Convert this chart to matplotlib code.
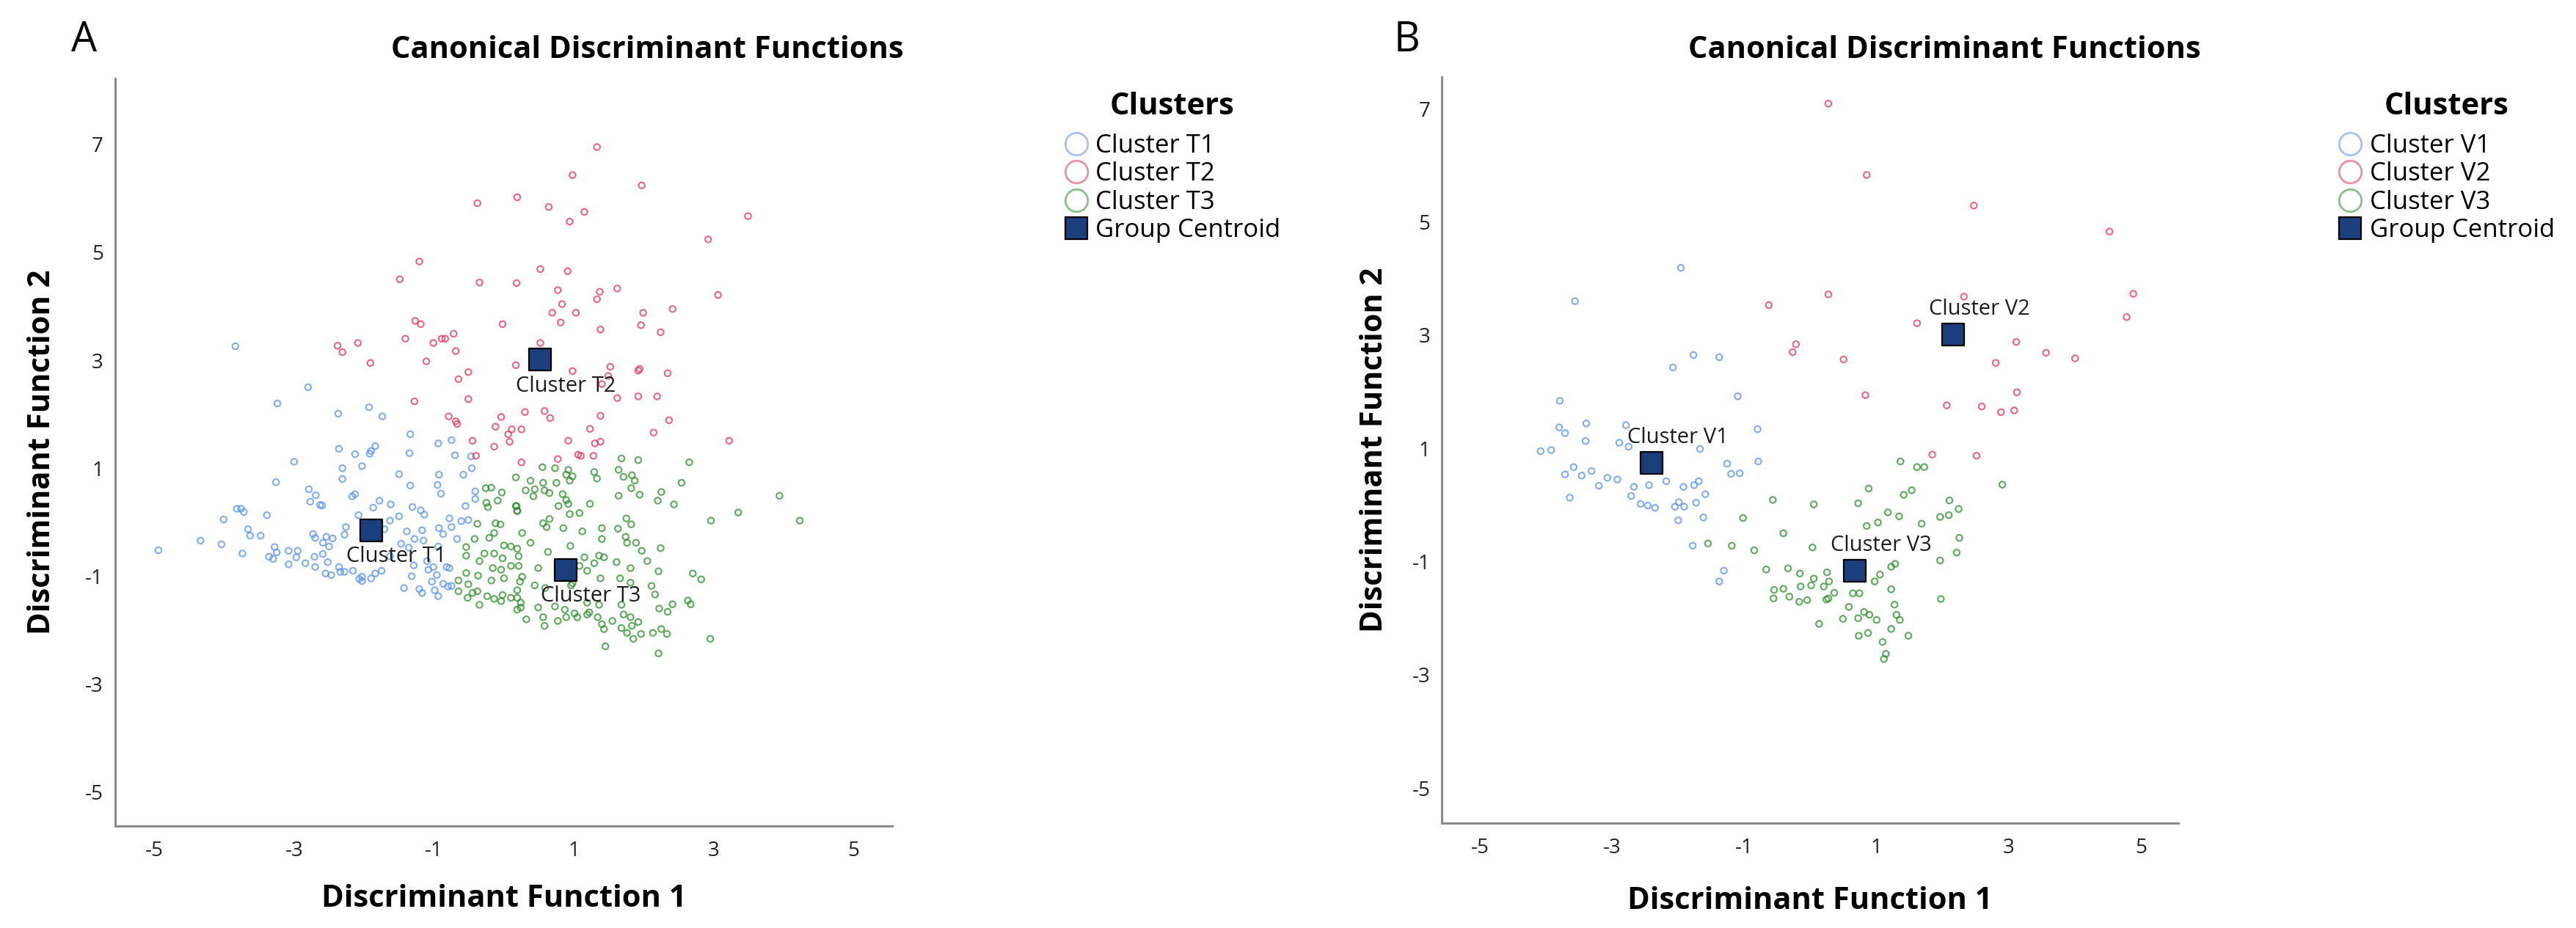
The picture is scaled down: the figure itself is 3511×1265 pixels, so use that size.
import matplotlib
matplotlib.use("Agg")
import matplotlib.pyplot as plt
from matplotlib.lines import Line2D

plt.rcParams['font.family'] = ['Open Sans', 'DejaVu Sans']
plt.rcParams['axes.unicode_minus'] = False

# ---------------- panel A (T clusters) ----------------
t1_x = [-3.84, -2.80, -3.24, -1.93, -4.94, -2.37, -1.74, -1.34, -0.94, -0.75, -2.36, -2.13, -1.92, -1.90,
        -1.84, -1.35, -0.70, -0.47, -3.00, -2.31, -2.03, -2.31, -1.50, -0.93, -0.58, -0.46, -3.26, -2.79,
        -2.69, -2.77, -2.63, -2.60, -2.17, -2.13, -1.34, -0.95, -0.90, -0.41, -0.41, -0.55, -3.82, -3.76,
        -3.72, -3.39, -4.01, -4.34, -4.04, -3.66, -3.63, -3.48, -3.74, -3.28, -3.25, -3.36, -3.30, -3.08,
        -2.95, -2.97, -3.08, -2.84, -2.73, -2.70, -2.54, -2.45, -2.59, -2.50, -2.71, -2.59, -2.52, -2.70,
        -2.55, -2.47, -2.36, -2.34, -2.28, -2.16, -2.07, -2.03, -2.03, -1.90, -1.84, -1.75, -2.26, -2.28,
        -2.08, -1.87, -1.78, -1.62, -1.63, -1.71, -1.50, -1.31, -1.19, -1.14, -1.39, -1.17, -1.28, -1.15,
        -1.47, -1.36, -1.63, -1.29, -1.10, -1.01, -1.08, -1.32, -0.96, -1.43, -1.21, -1.17, -1.03, -0.99,
        -0.94, -0.87, -0.80, -0.75, -0.93, -0.87, -0.75, -0.78, -0.61, -0.51, -0.67, -0.82, -0.78, -0.94]
t1_y = [3.26, 2.50, 2.20, 2.13, -0.52, 2.01, 1.96, 1.63, 1.46, 1.52, 1.36, 1.26, 1.27, 1.32,
        1.41, 1.28, 1.24, 1.22, 1.12, 1.00, 1.04, 0.80, 0.89, 0.88, 0.88, 1.00, 0.74, 0.61,
        0.50, 0.38, 0.32, 0.31, 0.48, 0.52, 0.68, 0.69, 0.53, 0.57, 0.43, 0.30, 0.25, 0.25,
        0.19, 0.13, 0.05, -0.34, -0.41, -0.13, -0.25, -0.25, -0.58, -0.46, -0.56, -0.64, -0.68, -0.53,
        -0.53, -0.65, -0.78, -0.76, -0.22, -0.29, -0.27, -0.30, -0.38, -0.45, -0.64, -0.59, -0.74, -0.83,
        -0.95, -0.98, -0.83, -0.92, -0.92, -0.90, -1.05, -1.01, -1.09, -1.04, -0.95, -0.90, -0.09, -0.23,
        0.13, 0.27, 0.40, 0.33, 0.03, -0.13, 0.11, 0.28, 0.22, 0.14, -0.17, -0.15, -0.31, -0.34,
        -0.40, -0.47, -0.63, -0.80, -0.72, -0.83, -0.88, -1.00, -0.98, -1.22, -1.24, -1.31, -1.10, -1.26,
        -1.37, -1.14, -1.19, -1.18, -0.11, -0.22, -0.09, 0.07, 0.02, 0.04, -0.31, -0.83, -0.85, -0.45]

t2_x = [1.33, 0.98, 1.97, -0.38, 0.19, 0.64, 1.15, 0.94, 3.49, 2.92, -1.21, -1.49, -0.35, 0.18, 0.52,
        0.91, 0.77, 1.37, 1.33, 1.62, 3.06, 0.83, 0.69, 1.03, 1.99, 2.41, -0.02, 0.81, 1.38, 1.96,
        2.24, -1.27, -1.19, -1.41, -1.01, -0.89, -0.84, -0.72, -0.69, -1.11, -2.38, -2.31, -2.09, -1.91,
        0.52, 0.17, 0.98, 1.52, 1.49, 1.92, 1.94, 2.34, -0.51, -0.65, -1.28, -0.51, 1.40, 1.62, 1.92,
        2.19, 0.30, 0.58, 0.66, -0.04, 0.11, 0.25, 0.06, -0.12, -0.79, -0.67, -0.69, 1.38, 1.23, 2.14,
        2.36, 3.22, -0.45, -0.14, 0.08, 0.92, 1.30, 1.38, -0.40, 0.25, 0.77, 1.06, 1.10, 1.28]
t2_y = [6.95, 6.43, 6.24, 5.91, 6.02, 5.84, 5.75, 5.57, 5.67, 5.24, 4.83, 4.50, 4.44, 4.43, 4.69,
        4.65, 4.30, 4.27, 4.13, 4.33, 4.21, 4.04, 3.88, 3.88, 3.88, 3.95, 3.67, 3.70, 3.57, 3.65,
        3.52, 3.73, 3.67, 3.40, 3.32, 3.40, 3.40, 3.49, 3.17, 2.98, 3.27, 3.15, 3.32, 2.95,
        3.32, 2.91, 2.80, 2.88, 2.71, 2.81, 2.84, 2.76, 2.78, 2.65, 2.24, 2.28, 2.56, 2.30, 2.33,
        2.33, 2.04, 2.06, 1.93, 1.95, 1.72, 1.72, 1.63, 1.77, 1.96, 1.82, 1.87, 1.97, 1.73, 1.66,
        1.89, 1.51, 1.51, 1.40, 1.49, 1.51, 1.46, 1.49, 1.23, 1.11, 1.17, 1.25, 1.23, 1.23]

t3_x = [0.17, -0.26, -0.18, -0.03, -0.09, -0.25, -0.23, 0.17, 0.19, -0.38, -0.12, -0.05, -0.14, -0.21,
        -0.42, -0.54, -0.54, -0.35, -0.28, -0.14, 0.00, 0.10, -0.02, -0.16, -0.04, 0.10, 0.21, -0.54,
        -0.37, -0.65, -0.51, -0.38, -0.65, -0.52, -0.24, -0.14, -0.35, -0.02, 0.10, 0.19, -0.04, -0.45,
        -0.18, 0.00,
        1.68, 1.92, 2.65, 0.55, 0.73, 0.92, 0.89, 0.98, 0.94, 1.29, 1.33, 1.64, 1.71, 1.83, 1.87,
        0.38, 0.56, 0.75, 0.31, 0.44, 0.58, 0.65, 0.42, 0.84, 0.89, 0.92, 0.78, 0.18, 0.19, 0.94,
        1.08, 1.23, 1.64, 1.82, 1.94, 2.25, 2.20, 2.43, 2.54, 3.94, 3.35, 2.96, 4.23, 0.56, 0.65,
        0.61, 0.85, 1.12, 1.40, 1.63, 1.75, 1.82, 1.40, 1.74, 1.76, 1.89, 1.97, 2.24, 2.05, 2.21,
        0.26, 0.38, 0.19, 0.95, 0.63, 1.15, 1.36, 1.43, 1.29, 1.61, 1.81, 1.19, 1.08, 0.49, 0.21,
        1.38, 1.66, 1.81, 2.11, 2.16, 2.70, 2.82, 0.26, 0.23, 0.44, 0.98, 0.59, 0.19, 0.24, 0.24,
        0.49, 0.73, 0.87, 1.01, 1.19, 1.22, 1.36, 1.34, 1.40, 1.43, 1.55, 1.68, 1.71, 1.81, 1.83,
        1.92, 1.68, 1.76, 1.85, 1.96, 2.13, 2.25, 2.33, 2.22, 2.34, 2.41, 2.63, 2.67, 2.95, 1.45,
        2.21, 0.32, 0.56, 0.58, 0.77, 0.89, 1.05, 1.19, 0.96, 0.19]
t3_y = [0.83, 0.63, 0.64, 0.55, 0.40, 0.36, 0.28, 0.30, 0.21, -0.03, -0.02, -0.04, -0.20, -0.29,
        -0.31, -0.46, -0.62, -0.72, -0.58, -0.58, -0.43, -0.45, -0.67, -0.85, -0.88, -0.81, -0.63, -0.94,
        -0.99, -1.08, -1.15, -1.28, -1.28, -1.40, -1.37, -1.42, -1.53, -1.35, -1.40, -1.62, -1.46, -1.31,
        -1.08, -1.04,
        1.18, 1.15, 1.11, 1.02, 1.00, 0.97, 0.88, 0.85, 0.77, 0.93, 0.81, 0.97, 0.84, 0.87, 0.77,
        0.77, 0.73, 0.73, 0.59, 0.61, 0.59, 0.54, 0.48, 0.52, 0.41, 0.34, 0.30, 0.30, 0.21, 0.15,
        0.17, 0.34, 0.49, 0.63, 0.51, 0.56, 0.40, 0.33, 0.73, 0.49, 0.18, 0.03, 0.03, -0.02, 0.06,
        -0.09, -0.11, -0.17, -0.11, -0.12, 0.07, -0.04, -0.31, -0.27, -0.38, -0.38, -0.53, -0.48, -0.72, -0.91,
        -0.20, -0.38, -0.49, -0.44, -0.55, -0.65, -0.62, -0.65, -0.76, -0.74, -0.85, -0.90, -0.81, -0.85, -0.81,
        -1.04, -1.04, -1.12, -1.18, -1.34, -0.95, -1.06, -1.01, -1.10, -1.17, -1.13, -1.22, -1.40, -1.49, -1.58,
        -1.58, -1.56, -1.62, -1.69, -1.49, -1.67, -1.53, -1.76, -1.89, -1.98, -1.83, -1.53, -1.71, -1.76, -1.92,
        -1.85, -1.96, -2.05, -2.16, -2.07, -2.05, -1.98, -2.07, -1.60, -1.66, -1.52, -1.45, -1.52, -2.16, -2.30,
        -2.43, -1.80, -1.76, -1.92, -1.83, -1.76, -1.76, -1.71, -1.17, -1.26]

centroid_a_x = [-1.90, 0.52, 0.88]
centroid_a_y = [-0.15, 3.01, -0.88]
names_a = ['Cluster T1', 'Cluster T2', 'Cluster T3']

# ---------------- panel B (V clusters) ----------------
v1_x = [-1.96, -3.56, -1.77, -1.38, -2.08, -1.10, -3.79, -3.80, -3.71, -3.39, -3.40, -4.08, -3.92,
        -2.89, -2.79, -2.75, -0.80, -1.67, -0.79, -1.26, -1.20, -1.07, -3.58, -3.71, -3.31, -3.46,
        -3.20, -3.07, -2.92, -3.64, -2.67, -2.44, -2.18, -2.71, -2.57, -2.46, -2.35, -2.05, -1.99,
        -1.91, -1.92, -1.76, -1.69, -1.59, -1.73, -2.00, -1.62, -1.78, -1.31, -1.38]
v1_y = [4.19, 3.60, 2.65, 2.61, 2.43, 1.92, 1.84, 1.37, 1.27, 1.44, 1.13, 0.95, 0.97,
        1.10, 1.41, 1.03, 1.34, 0.99, 0.77, 0.73, 0.55, 0.56, 0.67, 0.54, 0.60, 0.52,
        0.34, 0.48, 0.45, 0.13, 0.32, 0.35, 0.42, 0.16, 0.02, -0.01, -0.05, -0.03, 0.05,
        -0.03, 0.32, 0.35, 0.42, 0.19, 0.04, -0.27, -0.22, -0.72, -1.16, -1.35]

v2_x = [0.27, 0.85, 2.47, 4.52, 4.88, 4.78, 0.27, -0.63, 2.32, 1.61, 3.11, 3.56, 4.00, 2.80,
        -0.22, -0.27, 0.50, 0.83, 3.12, 2.06, 2.59, 2.88, 3.08, 1.84, 2.51]
v2_y = [7.09, 5.83, 5.29, 4.83, 3.73, 3.32, 3.72, 3.53, 3.68, 3.21, 2.88, 2.69, 2.59, 2.51,
        2.84, 2.70, 2.57, 1.94, 1.99, 1.76, 1.74, 1.64, 1.67, 0.89, 0.87]

v3_x = [1.36, 1.61, 1.72, 2.90, 0.88, 1.41, 1.53, -0.57, 0.05, 0.72, 2.10, 2.24, 2.09, 1.96, 1.17,
        1.34, 1.02, 0.85, 1.68, -1.02, -0.41, -1.55, -1.19, -0.85, 0.03, 2.25, 2.21, 1.96, 1.28, 1.22,
        1.05, 0.97, 1.22, -0.67, -0.34, -0.16, 0.05, 0.25, 0.28, -0.55, -0.56, -0.41, -0.32, -0.15,
        -0.17, -0.05, 0.01, 0.20, 0.24, 0.36, 0.64, 0.74, 1.97, 0.13, 0.49, 0.58, 0.72, 0.81, 0.89,
        1.00, 0.73, 0.87, 1.22, 1.27, 1.30, 1.35, 1.48, 1.09, 1.14, 1.11, 0.27]
v3_y = [0.77, 0.67, 0.67, 0.36, 0.29, 0.18, 0.26, 0.09, 0.01, 0.03, 0.08, -0.07, -0.18, -0.21, -0.13,
        -0.20, -0.31, -0.37, -0.33, -0.23, -0.50, -0.68, -0.72, -0.80, -0.75, -0.58, -0.84, -0.98, -1.04, -1.09,
        -1.23, -1.35, -1.49, -1.14, -1.12, -1.21, -1.30, -1.19, -1.35, -1.50, -1.65, -1.48, -1.62, -1.44,
        -1.71, -1.68, -1.42, -1.44, -1.67, -1.55, -1.56, -1.56, -1.66, -2.10, -2.01, -1.80, -2.00, -1.89, -1.94,
        -2.03, -2.31, -2.26, -2.19, -1.76, -1.94, -2.03, -2.31, -2.42, -2.63, -2.72, -1.65]

centroid_b_x = [-2.40, 2.16, 0.67]
centroid_b_y = [0.74, 3.01, -1.16]
names_b = ['Cluster V1', 'Cluster V2', 'Cluster V3']

x_ticks = [-5, -3, -1, 1, 3, 5]
y_ticks = [-5, -3, -1, 1, 3, 5, 7]

BLUE = '#5a92ea'
RED = '#de355b'
GREEN = '#2b8c2b'
NAVY = '#1a3f7c'
colors = [BLUE, RED, GREEN]

fig = plt.figure(figsize=(35.11, 12.65), dpi=100)
ax_a = fig.add_axes([0.0447, 0.1098, 0.3016, 0.8056])
ax_b = fig.add_axes([0.5598, 0.1130, 0.2858, 0.8040])


def draw_panel(ax, groups, cx, cy, names, label_dy, xlim, ylim, title_xy, xlab_y, ylab_x, leg_anchor):
    for (gx, gy), c in zip(groups, colors):
        ax.scatter(gx, gy, s=36, facecolors='none', edgecolors=c, linewidths=1.6, alpha=0.72, zorder=2)
    ax.scatter(cx, cy, s=22 ** 2, marker='s', c=NAVY, edgecolors='black', linewidths=1.6, zorder=4)
    for x, y, n in zip(cx, cy, names):
        ax.annotate(n, (x, y), xytext=(-24, label_dy), textcoords='offset points',
                    ha='left', va='center', fontsize=21, color='#1e1e1e', zorder=5)

    ax.set_xlim(*xlim)
    ax.set_ylim(*ylim)
    ax.set_xticks(x_ticks)
    ax.set_xticklabels([str(t) for t in x_ticks])
    ax.set_yticks(y_ticks)
    ax.set_yticklabels([str(t) for t in y_ticks])
    ax.tick_params(axis='x', length=0, pad=14.5, labelsize=20, labelcolor='#222222')
    ax.tick_params(axis='y', length=0, pad=11.5, labelsize=20, labelcolor='#222222')
    for s in ['top', 'right']:
        ax.spines[s].set_visible(False)
    for s in ['left', 'bottom']:
        ax.spines[s].set_color('#8a8a8a')
        ax.spines[s].set_linewidth(2.2)

    ax.set_title('Canonical Discriminant Functions', x=title_xy[0], y=title_xy[1],
                 va='baseline', fontsize=30, fontweight='bold')
    ax.set_xlabel('Discriminant Function 1', fontsize=30, fontweight='bold', va='baseline')
    ax.xaxis.set_label_coords(0.5, xlab_y)
    ax.set_ylabel('Discriminant Function 2', fontsize=30, fontweight='bold', va='center')
    ax.yaxis.set_label_coords(ylab_x, 0.5)

    handles = [Line2D([], [], ls='', marker='o', ms=22, mfc='none', mec=c, mew=2.0, alpha=0.55)
               for c in colors]
    handles.append(Line2D([], [], ls='', marker='s', ms=21, mfc=NAVY, mec='black', mew=1.6))
    leg = ax.legend(handles, names + ['Group Centroid'], title='Clusters', loc='upper left',
                    bbox_to_anchor=leg_anchor, bbox_transform=fig.transFigure, frameon=False,
                    borderpad=0, borderaxespad=0, handlelength=0.95, handletextpad=0.3,
                    labelspacing=0.13, prop={'size': 25},
                    title_fontproperties={'size': 30, 'weight': 'bold'})
    leg._legend_box.sep = 11.5


draw_panel(ax_a, [(t1_x, t1_y), (t2_x, t2_y), (t3_x, t3_y)], centroid_a_x, centroid_a_y, names_a,
           -26, (-5.56, 5.55), (-5.63, 8.22), (0.685, 1.0195), -0.108, -0.094, (0.4130, 0.9012))
draw_panel(ax_b, [(v1_x, v1_y), (v2_x, v2_y), (v3_x, v3_y)], centroid_b_x, centroid_b_y, names_b,
           25, (-5.57, 5.56), (-5.62, 7.56), (0.683, 1.0177), -0.115, -0.092, (0.9077, 0.9012))

fig.text(115 / 3511, 1 - 55 / 1265, 'A', ha='center', va='center', fontsize=40)
fig.text(1917 / 3511, 1 - 55 / 1265, 'B', ha='center', va='center', fontsize=40)

fig.savefig('out.png', dpi=100)
